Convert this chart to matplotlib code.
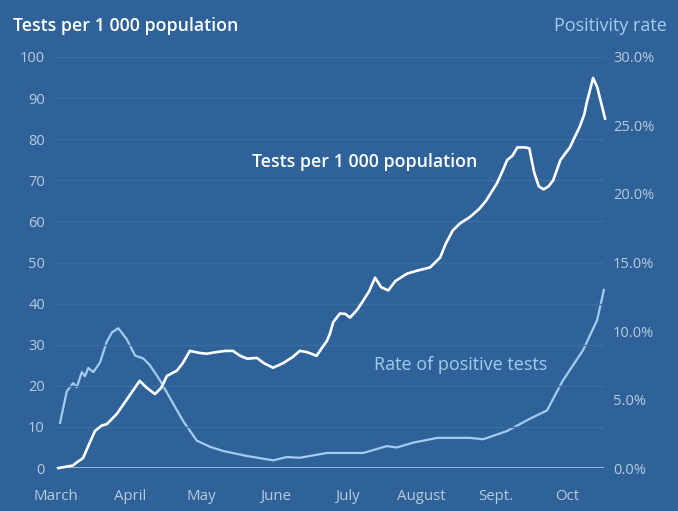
import matplotlib
matplotlib.use("Agg")
import matplotlib.pyplot as plt

# Days counted from 1 March
tests_day = [1, 4, 7, 9, 11.3, 14, 16.3, 19, 21.3, 25.5, 30, 35, 38, 41.4, 44, 46.4,
             50.6, 53, 56, 60, 63, 67, 71, 74, 77, 80, 84, 87, 90.8, 95, 99, 102,
             105, 109, 111, 113.4, 114.6, 116, 118.8, 121, 123, 126, 128.5, 131,
             133.5, 136, 139, 142, 146.9, 151, 156.5, 160.7, 163, 166, 169, 173,
             177, 180, 184.5, 187, 188.7, 191, 193, 196, 198, 200, 202, 204, 206,
             208, 211, 213, 215, 217, 219, 221, 222, 224.7, 226.4, 228, 229.7]
tests_per_1000 = [0, 0.3, 0.6, 1.5, 2.4, 6, 9, 10.3, 10.7, 13.2, 17, 21.2, 19.5, 18,
                  19.5, 22.4, 23.7, 25.5, 28.5, 28, 27.8, 28.2, 28.5, 28.5, 27.3,
                  26.6, 26.8, 25.5, 24.4, 25.5, 27, 28.5, 28.2, 27.3, 29, 31, 32.7,
                  35.5, 37.6, 37.5, 36.6, 38.5, 40.7, 43, 46.3, 44, 43.2, 45.5, 47.3,
                  48, 48.8, 51.2, 54.5, 57.8, 59.5, 61, 63, 65.1, 69.3, 72.5, 74.9,
                  76, 78, 78, 77.8, 72, 68.5, 67.8, 68.5, 70, 74.9, 76.5, 78, 80.5,
                  82.9, 86, 88.8, 94.9, 92.7, 89, 85]

pos_day = [1.7, 4.5, 7.2, 8.7, 10.8, 12.1, 13.5, 15.6, 18.4, 21.2, 23.4, 26.1, 29.6,
           33.1, 36.5, 39.3, 43.5, 47.7, 53.3, 58.9, 64.4, 70, 79.8, 90.9, 96.5,
           102.1, 113.3, 128.6, 138.4, 142.6, 149.4, 159.4, 173.2, 178.7, 188.7,
           198.3, 205.4, 212.1, 220.5, 226.4, 229.2]
positivity = [3.3, 5.6, 6.2, 5.9, 7.0, 6.7, 7.3, 7.0, 7.7, 9.2, 9.9, 10.2, 9.4, 8.2,
              8.0, 7.5, 6.4, 5.1, 3.4, 2.0, 1.55, 1.24, 0.88, 0.56, 0.8, 0.75, 1.1,
              1.1, 1.6, 1.5, 1.85, 2.2, 2.2, 2.1, 2.7, 3.6, 4.2, 6.4, 8.6, 10.8, 13.0]

month_start_day = [0, 31, 61, 92, 122, 153, 184, 214]
month_labels = ["March", "April", "May", "June", "July", "August", "Sept.", "Oct"]

left_ticks = list(range(0, 101, 10))
right_ticks = [0, 5, 10, 15, 20, 25, 30]

BG = "#2f6298"
GRID = "#3b6da1"
TICK = "#b7cbe0"
POS = "#a3cdf0"
FONT = ["Open Sans", "DejaVu Sans"]

plt.rcParams["font.family"] = FONT

fig = plt.figure(figsize=(6.78, 5.11), dpi=100, facecolor=BG)
ax = fig.add_axes([0.0826, 0.0841, 0.8084, 0.8044], facecolor=BG)
ax2 = ax.twinx()

ax.set_xlim(0, 229.3)
ax.set_ylim(0, 100)
ax2.set_ylim(0, 30)

for a in (ax, ax2):
    for s in a.spines.values():
        s.set_visible(False)

ax.set_yticks(left_ticks)
ax.set_yticklabels([str(v) for v in left_ticks])
ax2.set_yticks(right_ticks)
ax2.set_yticklabels([f"{v:.1f}%" for v in right_ticks])
ax.set_xticks(month_start_day)
ax.set_xticklabels(month_labels)

ax.tick_params(axis="y", length=0, pad=8, labelsize=10.5, labelcolor=TICK)
ax2.tick_params(axis="y", length=0, pad=6.5, labelsize=10.5, labelcolor=TICK)
ax.tick_params(axis="x", length=0, pad=15, labelsize=10.8, labelcolor=TICK)

for v in left_ticks[1:]:
    ax.axhline(v, color=GRID, lw=1.0, zorder=0)
ax.axhline(0, color="#a9c8e6", lw=1.2, zorder=1)

ax2.plot(pos_day, positivity, color=POS, lw=1.6, clip_on=False, zorder=3,
         solid_joinstyle="round")
ax.plot(tests_day, tests_per_1000, color="white", lw=1.9, clip_on=False, zorder=4,
        solid_joinstyle="round")
ax.set_zorder(ax2.get_zorder() + 1)
ax.patch.set_visible(False)
ax2.patch.set_facecolor(BG)

ax.text(129, 74.5, "Tests per 1 000 population", color="white", fontsize=12.8,
        fontweight="semibold", ha="center", va="center")
ax.text(169.2, 25.1, "Rate of positive tests", color=POS, fontsize=13,
        ha="center", va="center")

fig.text(13 / 678, 1 - 26 / 511, "Tests per 1 000 population", color="white",
         fontsize=12.8, fontweight="semibold", ha="left", va="center")
fig.text(667 / 678, 1 - 26 / 511, "Positivity rate", color=POS, fontsize=13,
         ha="right", va="center")

fig.savefig("out.png", dpi=100, facecolor=BG)
